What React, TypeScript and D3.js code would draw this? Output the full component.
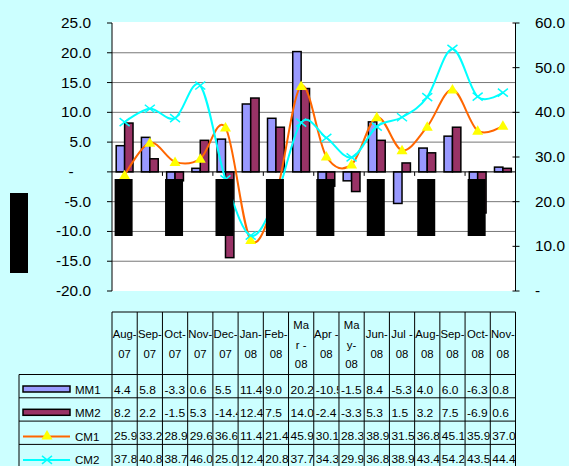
import React from "react";
import * as d3 from "d3";

const categories = ["Aug-07","Sep-07","Oct-07","Nov-07","Dec-07","Jan-08","Feb-08","Mar-08","Apr-08","May-08","Jun-08","Jul-08","Aug-08","Sep-08","Oct-08","Nov-08"];
const headerLines = [["Aug-","07"],["Sep-","07"],["Oct-","07"],["Nov-","07"],["Dec-","07"],["Jan-","08"],["Feb-","08"],["Ma","r -","08"],["Apr -","08"],["Ma","y-","08"],["Jun-","08"],["Jul -","08"],["Aug-","08"],["Sep-","08"],["Oct-","08"],["Nov-","08"]];
const mm1 = [4.4, 5.8, -3.3, 0.6, 5.5, 11.4, 9.0, 20.2, -10.5, -1.5, 8.4, -5.3, 4.0, 6.0, -6.3, 0.8];
const mm2 = [8.2, 2.2, -1.5, 5.3, -14.4, 12.4, 7.5, 14.0, -2.4, -3.3, 5.3, 1.5, 3.2, 7.5, -6.9, 0.6];
const cm1 = [25.9, 33.2, 28.9, 29.6, 36.6, 11.4, 21.4, 45.9, 30.1, 28.3, 38.9, 31.5, 36.8, 45.1, 35.9, 37.0];
const cm2 = [37.8, 40.8, 38.7, 46.0, 25.0, 12.4, 20.8, 37.7, 34.3, 29.9, 36.8, 38.9, 43.4, 54.2, 43.5, 44.4];
const leftTicks = [-20, -15, -10, -5, 0, 5, 10, 15, 20, 25];
const rightTicks = [0, 10, 20, 30, 40, 50, 60];
const seriesNames = ["MM1", "MM2", "CM1", "CM2"];

const W = 569, H = 466;
const PL = 112, PR = 515.5, PT = 23, PB = 291;
const FONT = "'Liberation Sans', Arial, sans-serif";

const C_MM1 = "#9999FF", C_MM2 = "#993366", C_CM1 = "#FF6600", C_CM2 = "#00FFFF", C_TRI = "#FFFF00";

function T({ x, y, anchor = "start", size = 10.5, sx = 1.1, children }: any) {
  return (
    <text transform={`translate(${x},${y}) scale(${sx},1)`} textAnchor={anchor} fontSize={size} fontFamily={FONT} fill="#000">
      {children}
    </text>
  );
}

const tri = (x: number, y: number) => `M${x},${y - 5.5}L${x + 5.5},${y + 4}L${x - 5.5},${y + 4}Z`;
const cross = (x: number, y: number) => `M${x - 5},${y - 4}L${x + 5},${y + 4}M${x - 5},${y + 4}L${x + 5},${y - 4}`;

export default function App() {
  const x = d3.scaleBand<number>().domain(d3.range(categories.length)).range([PL, PR]).paddingInner(0);
  const bw = x.bandwidth();
  const inner = d3.scaleBand<number>().domain([0, 1]).range([bw / 6, bw * 5 / 6]).paddingInner(0);
  const yL = d3.scaleLinear().domain([-20, 25]).range([PB, PT]);
  const yR = d3.scaleLinear().domain([0, 60]).range([PB, PT]);
  const cx = (i: number) => (x(i) as number) + bw / 2;
  const line = d3.line<number>().x((_, i) => cx(i)).curve(d3.curveCardinal.tension(0));
  const cm1Path = line.y((v) => yR(v))(cm1) as string;
  const cm2Path = line.y((v) => yR(v))(cm2) as string;
  const y0 = yL(0);

  const tTop = 312, hBot = 374.5, rowH = 23.3;
  const rows = [mm1, mm2, cm1, cm2];

  return (
    <svg width={W} height={H} style={{ position: "absolute", left: 0, top: 0 }}>
      <defs>
        {categories.map((_, i) => (
          <clipPath id={`col${i}`} key={i}>
            <rect x={x(i)} y={tTop} width={bw - 0.5} height={H - tTop} />
          </clipPath>
        ))}
      </defs>
      <rect x={0} y={0} width={W} height={H} fill="#CCFFFF" />
      <rect x={PL} y={PT - 1} width={PR - PL} height={PB - PT + 1} fill="#FFFFFF" />
      {leftTicks.filter((t) => t > -20 && t < 25 && t !== 0).map((t) => (
        <line key={t} x1={PL} x2={PR} y1={yL(t)} y2={yL(t)} stroke="#777777" strokeWidth={1} />
      ))}
      {/* bars */}
      {categories.map((_, i) => (
        <g key={i}>
          {[mm1[i], mm2[i]].map((v, j) => (
            <rect key={j} x={(x(i) as number) + (inner(j) as number)} width={inner.bandwidth()}
              y={Math.min(yL(v), y0)} height={Math.abs(yL(v) - y0)}
              fill={j === 0 ? C_MM1 : C_MM2} stroke="#000" strokeWidth={1.5} />
          ))}
        </g>
      ))}
      {/* category axis on zero */}
      <line x1={PL} x2={PR} y1={y0} y2={y0} stroke="#000" strokeWidth={1} />
      {d3.range(2, categories.length + 1, 2).map((k) => (
        <line key={k} x1={PL + k * bw} x2={PL + k * bw} y1={y0} y2={y0 + 4} stroke="#000" strokeWidth={1} />
      ))}
      {/* lines */}
      <path d={cm1Path} fill="none" stroke={C_CM1} strokeWidth={2} />
      <path d={cm2Path} fill="none" stroke={C_CM2} strokeWidth={2} />
      {cm1.map((v, i) => <path key={i} d={tri(cx(i), yR(v))} fill={C_TRI} />)}
      {cm2.map((v, i) => <path key={i} d={cross(cx(i), yR(v))} fill="none" stroke={C_CM2} strokeWidth={1.5} />)}
      {/* obscured category labels */}
      {categories.map((_, i) => i % 2 === 0 ? (
        <rect key={i} x={cx(i) - 10} y={179} width={18} height={57} fill="#000" />
      ) : null)}
      {/* obscured axis title */}
      <rect x={10} y={193} width={18} height={80} fill="#000" />
      {/* left axis */}
      <line x1={PL} x2={PL} y1={PT} y2={PB} stroke="#000" strokeWidth={1} />
      {leftTicks.map((t) => (
        <g key={t}>
          <line x1={PL - 5} x2={PL} y1={yL(t)} y2={yL(t)} stroke="#000" />
          {t === 0 ? <T x={71} y={yL(t) + 5} anchor="middle" size={14}>-</T>
            : <T x={91} y={yL(t) + 5} anchor="end" size={14}>{t.toFixed(1)}</T>}
        </g>
      ))}
      {/* right axis */}
      <line x1={PR} x2={PR} y1={PT} y2={PB} stroke="#000" strokeWidth={1} />
      {rightTicks.map((t) => (
        <g key={t}>
          <line x1={PR - 3} x2={PR + 4} y1={yR(t)} y2={yR(t)} stroke="#000" />
          <T x={535} y={yR(t) + 5} size={14}>{t === 0 ? "-" : t.toFixed(1)}</T>
        </g>
      ))}
      {/* data table */}
      <g stroke="#000" strokeWidth={1}>
        <line x1={PL} x2={PR} y1={tTop} y2={tTop} />
        {d3.range(5).map((r) => (
          <line key={r} x1={19} x2={PR} y1={hBot + r * rowH} y2={hBot + r * rowH} />
        ))}
        <line x1={19} x2={19} y1={hBot} y2={H} />
        {d3.range(categories.length + 1).map((k) => (
          <line key={k} x1={PL + k * bw} x2={PL + k * bw} y1={tTop} y2={H} />
        ))}
      </g>
      {headerLines.map((ls, i) => {
        const n = ls.length;
        const base = n === 2 ? 338 : 329;
        return (
          <g key={i} clipPath={`url(#col${i})`}>
            {ls.map((s, k) => <T key={k} x={cx(i)} y={base + k * 19.7} anchor="middle" sx={1.08}>{s}</T>)}
          </g>
        );
      })}
      {rows.map((arr, r) => (
        <g key={r}>
          {arr.map((v, i) => (
            <g key={i} clipPath={`url(#col${i})`}>
              <T x={(x(i) as number) + 2} y={hBot + r * rowH + 19} sx={1.14}>{v.toFixed(1)}</T>
            </g>
          ))}
        </g>
      ))}
      {/* legend keys */}
      {seriesNames.map((s, r) => {
        const ky = hBot + r * rowH + 14.5;
        return (
          <g key={s}>
            {r < 2 ? (
              <rect x={23} y={ky - 3} width={47} height={6} fill={r === 0 ? C_MM1 : C_MM2} stroke="#000" strokeWidth={1.5} />
            ) : (
              <g>
                <line x1={23} x2={70} y1={ky + 1} y2={ky + 1} stroke={r === 2 ? C_CM1 : C_CM2} strokeWidth={2} />
                {r === 2 ? <path d={tri(47, ky)} fill={C_TRI} /> : <path d={cross(47, ky + 1)} stroke={C_CM2} strokeWidth={1.5} fill="none" />}
              </g>
            )}
            <T x={75} y={hBot + r * rowH + 19.5}>{s}</T>
          </g>
        );
      })}
    </svg>
  );
}
